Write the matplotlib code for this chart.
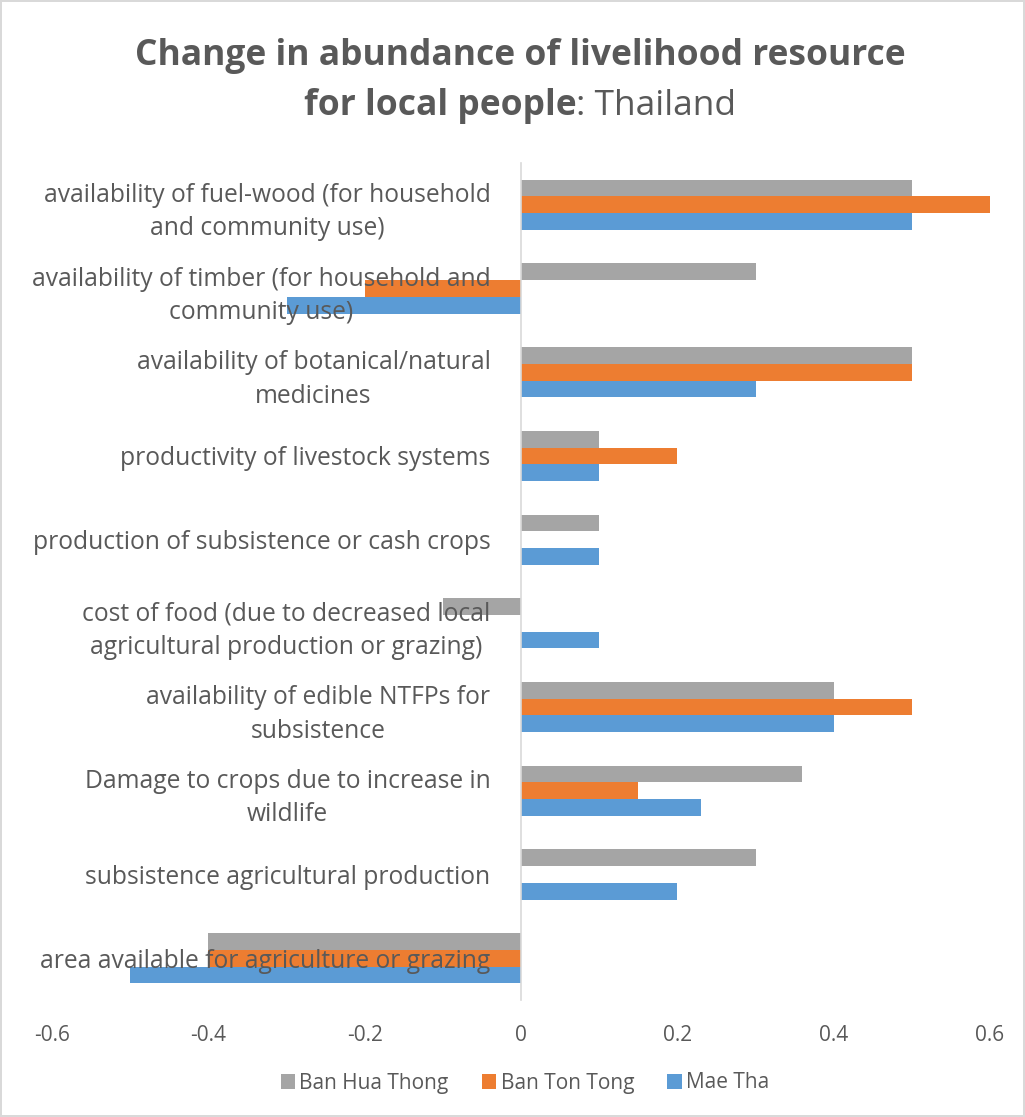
import matplotlib
matplotlib.use("Agg")
import matplotlib.pyplot as plt
from matplotlib import font_manager
import numpy as np

categories = [
    "availability of fuel-wood (for household\nand community use)",
    "availability of timber (for household and\ncommunity use)",
    "availability of botanical/natural\nmedicines",
    "productivity of livestock systems",
    "production of subsistence or cash crops",
    "cost of food (due to decreased local\nagricultural production or grazing)",
    "availability of edible NTFPs for\nsubsistence",
    "Damage to crops due to increase in\nwildlife",
    "subsistence agricultural production",
    "area available for agriculture or grazing",
]
series_names = ["Ban Hua Thong", "Ban Ton Tong", "Mae Tha"]
ban_hua_thong = [0.5, 0.3, 0.5, 0.1, 0.1, -0.1, 0.4, 0.36, 0.3, -0.4]
ban_ton_tong = [0.6, -0.2, 0.5, 0.2, 0.0, 0.0, 0.5, 0.15, 0.0, -0.4]
mae_tha = [0.5, -0.3, 0.3, 0.1, 0.1, 0.1, 0.4, 0.23, 0.2, -0.5]
xticks = [-0.6, -0.4, -0.2, 0, 0.2, 0.4, 0.6]
xtick_labels = ["-0.6", "-0.4", "-0.2", "0", "0.2", "0.4", "0.6"]

colors = ["#A5A5A5", "#ED7D31", "#5B9BD5"]
txt = "#595959"

avail = {f.name for f in font_manager.fontManager.ttflist}
fam = "Liberation Sans Narrow" if "Liberation Sans Narrow" in avail else "Open Sans"
plt.rcParams['font.family'] = [fam, 'DejaVu Sans']

W, H = 1025, 1117
fig = plt.figure(figsize=(W/100, H/100), dpi=100)
fig.patch.set_edgecolor("#D9D9D9")
fig.patch.set_linewidth(1.5)

ax = fig.add_axes([52/W, 1 - 1000/H, (990-52)/W, (1000-163)/H])
y = np.arange(len(categories))
h = 0.2
for vals, off, c, name in zip([ban_hua_thong, ban_ton_tong, mae_tha], [-h, 0, h], colors, series_names):
    ax.barh(y + off, vals, height=h, color=c, label=name, zorder=1)

ax.set_ylim(len(categories) - 0.5, -0.5)
ax.set_xlim(-0.6, 0.6)
ax.set_xticks(xticks)
ax.set_xticklabels(xtick_labels)
ax.set_yticks(y)
ax.set_yticklabels(categories)
for s in ["top", "right", "bottom"]:
    ax.spines[s].set_visible(False)
ax.spines["left"].set_position(("data", 0))
ax.spines["left"].set_color("#D9D9D9")
ax.spines["left"].set_linewidth(1.2)
ax.tick_params(axis="y", length=0, pad=22, labelsize=17.7, labelcolor=txt)
ax.tick_params(axis="x", length=0, pad=18, labelsize=15, labelcolor=txt)
for t in ax.get_yticklabels():
    t.set_multialignment("center")
    t.set_linespacing(1.45)
    t.set_zorder(5)
ax.yaxis.set_zorder(5)

# Title
tsize = 25.5
t1 = fig.text(520/W, 1 - 56/H, "Change in abundance of livelihood resource",
              ha="center", va="center", fontsize=tsize, fontweight="bold", color=txt)
tb = fig.text(0, 1 - 106/H, "for local people", ha="left", va="center",
              fontsize=tsize, fontweight="bold", color=txt)
tr = fig.text(0, 1 - 106/H, ": Thailand", ha="left", va="center",
              fontsize=tsize, color=txt)
fig.canvas.draw()
r = fig.canvas.get_renderer()
wb = tb.get_window_extent(r).width
wr = tr.get_window_extent(r).width
x0 = 520 - (wb + wr) / 2
tb.set_x(x0 / W)
tr.set_x((x0 + wb) / W)

leg = fig.legend(loc="center", bbox_to_anchor=(525/W, 1 - 1083/H), ncol=3, frameon=False,
                 fontsize=15, handlelength=0.7, handleheight=0.7, handletextpad=0.2,
                 columnspacing=1.6, labelcolor=txt)

fig.savefig("out.png", dpi=100)
